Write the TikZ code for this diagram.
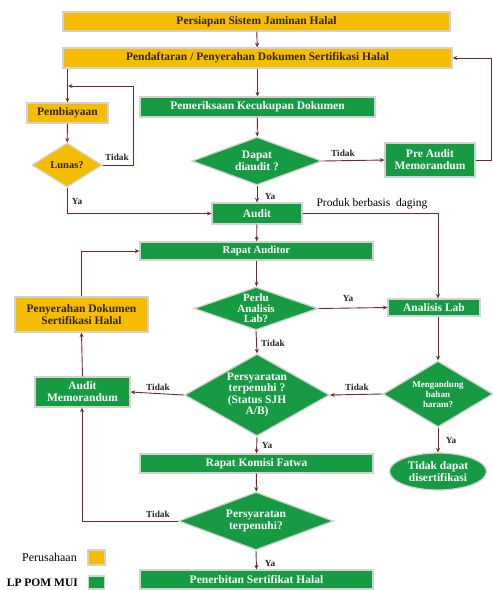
\documentclass[tikz,border=0pt]{standalone}
\usepackage{fontspec}
\setmainfont{Liberation Serif}
\usetikzlibrary{shapes.geometric,arrows.meta,calc}
\definecolor{kuning}{RGB}{246,188,0}
\definecolor{hijau}{RGB}{22,155,66}
\definecolor{garis}{RGB}{112,40,40}
\definecolor{bingkai}{RGB}{210,210,210}
\definecolor{teks}{RGB}{50,36,16}
\begin{document}
\begin{tikzpicture}[x=1pt,y=-1pt,
  base/.style={draw=bingkai,line width=1.3pt,inner sep=1pt,align=center,font=\bfseries\fontsize{11.5}{12.5}\selectfont},
  kbox/.style={base,rectangle,fill=kuning,text=teks},
  hbox/.style={base,rectangle,fill=hijau,text=white},
  kdia/.style={draw=bingkai,line width=1.3pt,diamond,fill=kuning,inner sep=0pt},
  hdia/.style={draw=bingkai,line width=1.3pt,diamond,fill=hijau,inner sep=0pt},
  ktx/.style={align=center,text=teks,inner sep=0pt,font=\bfseries\fontsize{11.5}{12}\selectfont},
  htx/.style={align=center,text=white,inner sep=0pt,font=\bfseries\fontsize{11.5}{12}\selectfont},
  arr/.style={draw=garis,line width=0.9pt,-{Stealth[length=4.5pt,width=4pt]}},
  lbl/.style={font=\bfseries\fontsize{9.3}{10}\selectfont,text=black!85,inner sep=0pt}
]
\useasboundingbox (0,0) rectangle (493,590);

% nodes
\node[kbox,minimum width=387,minimum height=19] (persiapan) at (256.5,21.5) {Persiapan Sistem Jaminan Halal};
\node[kbox,minimum width=389,minimum height=20] (pendaftaran) at (257.5,58) {Pendaftaran / Penyerahan Dokumen Sertifikasi Halal};
\node[kbox,minimum width=81,minimum height=20] (pembiayaan) at (67.5,113) {Pembiayaan};
\node[hbox,minimum width=235,minimum height=20] (pemeriksaan) at (257.5,107) {Pemeriksaan Kecukupan Dokumen};
\node[kdia,minimum width=70,minimum height=44,
  label={[ktx,font=\bfseries\fontsize{10.5}{11}\selectfont]center:Lunas?}] (lunas) at (67,165) {};
\node[hdia,minimum width=130,minimum height=48,
  label={[htx]center:Dapat\\diaudit ?}] (dapat) at (257,161) {};
\node[hbox,minimum width=90,minimum height=34,font=\bfseries\fontsize{11.5}{12}\selectfont] (preaudit) at (430,160) {Pre Audit\\Memorandum};
\node[hbox,minimum width=90,minimum height=21] (audit) at (257,213.5) {Audit};
\node[hbox,minimum width=233,minimum height=18,font=\bfseries\fontsize{10.8}{12}\selectfont] (rapataud) at (256.5,251) {Rapat Auditor};
\node[hdia,minimum width=124,minimum height=43,
  label={[htx,font=\bfseries\fontsize{11}{10.5}\selectfont]center:Perlu\\Analisis\\Lab?}] (perlu) at (256,308.5) {};
\node[hbox,minimum width=92,minimum height=17] (analisis) at (434,307.5) {Analisis Lab};
\node[hdia,minimum width=110,minimum height=66,
  label={[htx,font=\bfseries\fontsize{9}{10}\selectfont]center:Mengandung\\bahan\\haram?}] (mengandung) at (438,394) {};
\node[hdia,minimum width=145,minimum height=82,
  label={[htx,font=\bfseries\fontsize{11.5}{11.5}\selectfont]center:Persyaratan\\terpenuhi ?\\(Status SJH\\A/B)}] (persy1) at (257,395) {};
\node[hbox,minimum width=95,minimum height=30,font=\bfseries\fontsize{11.5}{12}\selectfont] (auditmemo) at (82.5,392) {Audit\\Memorandum};
\node[kbox,minimum width=133,minimum height=35,font=\bfseries\fontsize{11.5}{12}\selectfont] (penyerahan) at (81.5,314.5) {Penyerahan Dokumen\\Sertifikasi Halal};
\node[hbox,minimum width=233,minimum height=19] (rapatkom) at (256.5,463.5) {Rapat Komisi Fatwa};
\node[hdia,minimum width=155,minimum height=58,
  label={[htx,font=\bfseries\fontsize{11.5}{12.5}\selectfont]center:Persyaratan\\terpenuhi?}] (persy2) at (256,521) {};
\node[hbox,minimum width=233,minimum height=19] (penerbitan) at (256.5,579.5) {Penerbitan Sertifikat Halal};
\node[base,ellipse,fill=hijau,text=white,inner sep=0pt,minimum width=97,minimum height=37,font=\bfseries\fontsize{11.5}{12.5}\selectfont] (tidakdapat) at (438,471.5) {Tidak dapat\\disertifikasi};

% legend
\node[font=\fontsize{12}{12}\selectfont,anchor=east,inner sep=0pt] (lgk) at (77,557) {Perusahaan};
\node[draw=bingkai,line width=1.2pt,fill=kuning,minimum width=17,minimum height=15,inner sep=0pt] (sqk) at (96.5,557.5) {};
\node[font=\bfseries\fontsize{11.5}{12}\selectfont,anchor=east,inner sep=0pt] (lgh) at (78,583) {LP POM MUI};
\node[draw=bingkai,line width=1.2pt,fill=hijau,minimum width=16,minimum height=13,inner sep=0pt] (sqh) at (96.5,582.5) {};

% coordinates
\coordinate (c1) at (133,86);
\coordinate (c1e) at (68,86);
\coordinate (c2) at (491,58);
\coordinate (c3) at (82,521);

% connectors
\draw[arr] (persiapan) -- (pendaftaran);
\draw[arr] (pendaftaran) -- (pemeriksaan);
\draw[arr] (pemeriksaan) -- (dapat);
\draw[arr] (pendaftaran.south -| pembiayaan.north) -- (pembiayaan.north);
\draw[arr] (pembiayaan) -- (lunas);
\draw[arr] (lunas.east) -| (c1) -- (c1e);
\draw[arr] (lunas.south) |- (audit.west);
\draw[arr] (dapat.east) -- (preaudit.west);
\draw[arr] (preaudit.east) -| (c2) -- (pendaftaran.east);
\draw[arr] (dapat.south) -- (audit.north);
\draw[arr] (audit.east) -| (analisis.north -| mengandung.north);
\draw[arr] (audit) -- (rapataud);
\draw[arr] (rapataud.south) -- (perlu.north -| rapataud.south);
\draw[arr] (perlu.east) -- (analisis.west);
\draw[arr] (perlu.south) -- (persy1.north);
\draw[arr] (analisis.south -| mengandung.north) -- (mengandung.north);
\draw[arr] (mengandung.west) -- (persy1.east);
\draw[arr] (persy1.west) -- (auditmemo.east);
\draw[arr] (auditmemo.north) -- (penyerahan.south);
\draw[arr] (penyerahan.north) |- (rapataud.west);
\draw[arr] (persy1.south) -- (rapatkom.north);
\draw[arr] (rapatkom) -- (persy2);
\draw[arr] (persy2.west) -- (c3) -- (auditmemo.south -| c3);
\draw[arr] (persy2.south) -- (penerbitan.north);
\draw[arr] (mengandung.south) -- (tidakdapat.north);

% labels
\node[lbl] (l1) at (117,157) {Tidak};
\node[lbl] (l2) at (77,201) {Ya};
\node[lbl] (l3) at (343,153) {Tidak};
\node[lbl] (l4) at (270,196) {Ya};
\node[font=\fontsize{11.5}{12}\selectfont,inner sep=0pt] (l5) at (372,204) {Produk berbasis\ \ daging};
\node[lbl] (l6) at (348,298) {Ya};
\node[lbl] (l7) at (273,343) {Tidak};
\node[lbl] (l8) at (357,387) {Tidak};
\node[lbl] (l9) at (158,387) {Tidak};
\node[lbl] (l10) at (267,445) {Ya};
\node[lbl] (l11) at (158,514) {Tidak};
\node[lbl] (l12) at (270,563) {Ya};
\node[lbl] (l13) at (451,440) {Ya};
\end{tikzpicture}
\end{document}
